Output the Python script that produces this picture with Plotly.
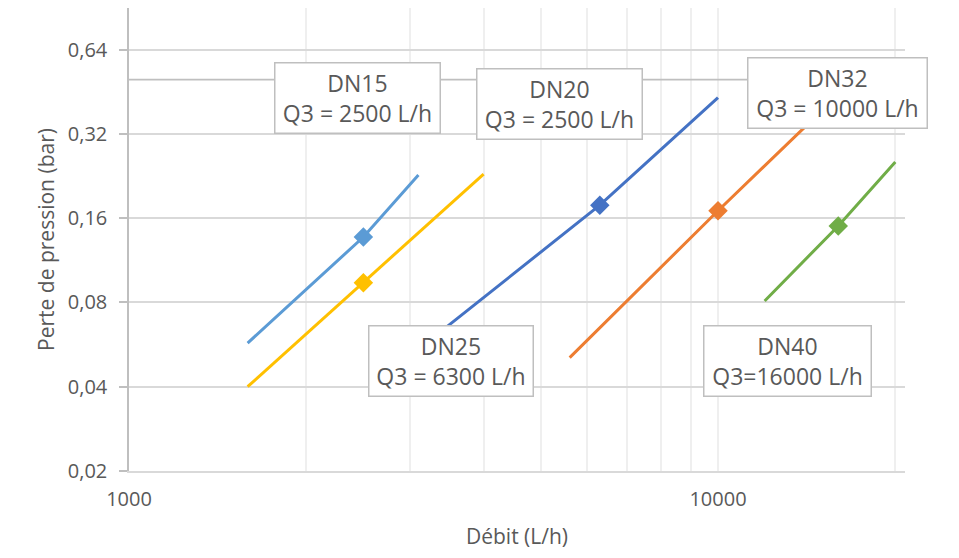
import plotly.graph_objects as go

# ---- data ----
# Débit (L/h) / perte de pression (bar) for each series
dn15_q = [1590, 2500, 3100]
dn15_dp = [0.0573, 0.137, 0.228]
dn25_q = [1590, 2500, 4000]
dn25_dp = [0.040, 0.094, 0.230]
dn20_q = [3300, 4800, 6300, 10000]
dn20_dp = [0.0604, 0.113, 0.178, 0.431]
dn32_q = [5600, 10000, 16000]
dn32_dp = [0.0508, 0.170, 0.441]
dn40_q = [12000, 16000, 20000]
dn40_dp = [0.081, 0.150, 0.254]

# Q3 marker points
q3_q = {"DN15": 2500, "DN25": 2500, "DN20": 6300, "DN32": 10000, "DN40": 16000}
q3_dp = {"DN15": 0.137, "DN25": 0.094, "DN20": 0.178, "DN32": 0.170, "DN40": 0.150}

# horizontal reference line
limit_q = [1000, 22000]
limit_dp = [0.5, 0.5]

# axis ticks
y_tickvals = [0.02, 0.04, 0.08, 0.16, 0.32, 0.64]
y_ticktext = ["0,02", "0,04", "0,08", "0,16", "0,32", "0,64"]
x_tickvals = [1000, 10000]
x_ticktext = ["1000", "10000"]
x_minor = [2000, 3000, 4000, 5000, 6000, 7000, 8000, 9000, 20000]

# text boxes
box_texts = ["DN15<br>Q3 = 2500 L/h", "DN20<br>Q3 = 2500 L/h", "DN32<br>Q3 = 10000 L/h",
             "DN25<br>Q3 = 6300 L/h", "DN40<br>Q3=16000 L/h"]

series = [
    ("DN15", dn15_q, dn15_dp, "#5B9BD5"),
    ("DN25", dn25_q, dn25_dp, "#FFC000"),
    ("DN20", dn20_q, dn20_dp, "#4472C4"),
    ("DN32", dn32_q, dn32_dp, "#ED7D31"),
    ("DN40", dn40_q, dn40_dp, "#70AD47"),
]

FONT = "Open Sans"
TXT = "#595959"

fig = go.Figure()
fig.add_trace(go.Scatter(x=limit_q, y=limit_dp, mode="lines",
                         line=dict(color="#BFBFBF", width=1.8), hoverinfo="skip",
                         showlegend=False))
for name, q, dp, col in series:
    fig.add_trace(go.Scatter(x=q, y=dp, mode="lines", name=name,
                             line=dict(color=col, width=3), showlegend=False))
    fig.add_trace(go.Scatter(x=[q3_q[name]], y=[q3_dp[name]], mode="markers",
                             marker=dict(symbol="diamond", size=15, color=col),
                             showlegend=False, name=name + " Q3"))

# page has an 8px body margin: figure pixel = reference pixel - 8
OFF = 8
W, H = 959 - OFF, 558 - OFF
L, R, B = 129 - OFF, 905 - OFF, 471 - OFF   # plot area (figure px)
T = 0
def px(x):
    return (x - OFF - L) / (R - L)
def py(y):
    return (B - (y - OFF)) / (B - T)

# box centres / sizes in reference pixels
box_geom = [(357.5, 98, 167), (559.5, 104, 167), (837.5, 93, 181),
            (451, 361, 166), (787.5, 360.5, 169)]
PAD, BW, BOXH = 7, 1.5, 72
for text, (cx, cy, bwid) in zip(box_texts, box_geom):
    fig.add_annotation(text=text, xref="paper", yref="paper", x=px(cx), y=py(cy),
                       xanchor="center", yanchor="middle", showarrow=False,
                       font=dict(family=FONT, size=23, color=TXT),
                       width=bwid - 2 * PAD - 2 * BW, height=BOXH - 2 * PAD - 2 * BW,
                       bgcolor="white", bordercolor="#BFBFBF", borderwidth=BW,
                       borderpad=PAD, align="center", valign="middle")

fig.update_layout(
    width=W, height=H,
    margin=dict(l=L, r=W - R, t=T, b=H - B, autoexpand=False),
    paper_bgcolor="white", plot_bgcolor="white",
    font=dict(family=FONT, color=TXT),
    showlegend=False,
)
# decade = 589 px on x; doubling = 84.28 px on y
fig.update_xaxes(
    type="log", range=[3, 3 + (R - L) / 589.0], automargin=False,
    tickvals=x_tickvals, ticktext=x_ticktext, ticks="",
    tickfont=dict(family=FONT, size=20, color=TXT), ticklabelstandoff=9,
    showgrid=True, gridcolor="#EFEFEF", gridwidth=1.5,
    minor=dict(tickvals=x_minor, showgrid=True, gridcolor="#EFEFEF", gridwidth=1.5, ticks=""),
    showline=True, linecolor="#D9D9D9", linewidth=1.5,
    zeroline=False,
    title=dict(text="Débit (L/h)", font=dict(family=FONT, size=21, color=TXT), standoff=19),
)
ytop = -1.69897 + (B - T) / 84.28 * 0.30103
fig.update_yaxes(
    type="log", range=[-1.69897, ytop], automargin=False,
    tickvals=y_tickvals, ticktext=y_ticktext, ticks="outside", ticklen=8,
    tickcolor="#BFBFBF", tickwidth=1.5,
    tickfont=dict(family=FONT, size=20, color=TXT), ticklabelstandoff=8,
    showgrid=True, gridcolor="#D9D9D9", gridwidth=1.5,
    showline=True, linecolor="#BFBFBF", linewidth=1.5,
    zeroline=False,
    title=dict(text="Perte de pression (bar)", font=dict(family=FONT, size=21, color=TXT), standoff=7),
)

fig.write_html("out.html")
